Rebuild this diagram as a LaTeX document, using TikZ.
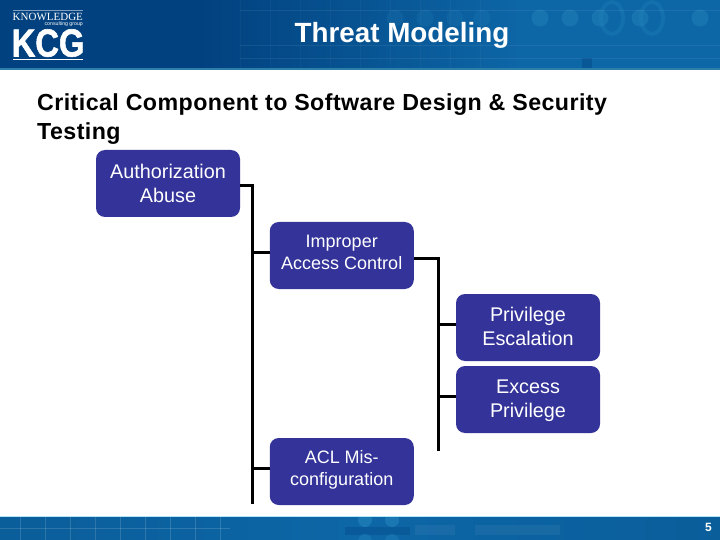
\documentclass[tikz,border=0pt]{standalone}
\usepackage{fontspec}
\setmainfont{Liberation Sans}
\newfontfamily\logoserif{Liberation Serif}
\newfontfamily\logobold[BoldFeatures={FakeBold=1.6}]{Liberation Sans}
\newfontfamily\headfont[LetterSpace=1.9]{Liberation Sans}
\usetikzlibrary{calc}
\definecolor{boxblue}{HTML}{333399}
\definecolor{hdark}{HTML}{02417F}
\definecolor{hmid}{HTML}{044B8A}
\definecolor{hlight}{HTML}{0D66A6}
\definecolor{fdark}{HTML}{0A5E9A}
\definecolor{dotc}{HTML}{2080B8}
\definecolor{stripc}{HTML}{2C7FA8}
\tikzset{
  x=1pt,y=-1pt,
  topic/.style={draw=none,fill=boxblue,rounded corners=9pt,minimum width=144pt,minimum height=67pt,
    text=white,align=center,inner sep=0pt},
  big/.style={font=\fontsize{19.8}{24}\selectfont},
  small/.style={font=\fontsize{18}{22}\selectfont},
  link/.style={draw=black,line width=3pt,line cap=butt,line join=miter},
  heading/.style={anchor=base west,inner sep=0pt,font=\headfont\bfseries\fontsize{23.2}{24}\selectfont},
}
\begin{document}
\begin{tikzpicture}
\useasboundingbox (0,0) rectangle (720,540);
% header
\fill[hdark] (0,0) rectangle (200,68);
\shade[left color=hdark,right color=hlight] (200,0) rectangle (520,68);
\fill[hlight] (520,0) rectangle (720,68);
\foreach \cx in {395,425,455,482}
  \fill[dotc,opacity=.22] (\cx,18) circle (8.5);
\foreach \cx in {540,570,600,640,700}
  \fill[dotc,opacity=.55] (\cx,18) circle (8.5);
\foreach \cx in {612,652}
  \draw[dotc,opacity=.4,line width=4pt] (\cx,18) ellipse (11 and 16);
\fill[hdark,opacity=.4] (582,58) rectangle (592,68);
\foreach \yy in {10,45,58}
  \draw[white,opacity=.07,line width=.6pt] (240,\yy) -- (720,\yy);
\foreach \xx in {240,270,...,480}
  \draw[white,opacity=.03,line width=.6pt] (\xx,0) -- (\xx,68);
\fill[stripc] (0,68) rectangle (720,70);
% footer
\fill[white!70!cyan] (0,516) rectangle (720,517);
\shade[left color=fdark,right color=fdark,middle color=hlight] (0,517) rectangle (720,540);
\foreach \xx in {20,45,...,220}
  \draw[white,opacity=.14,line width=.6pt] (\xx,517) -- (\xx,540);
\draw[white,opacity=.14,line width=.6pt] (0,528) -- (230,528);
\fill[hdark,opacity=.3] (345,527) rectangle (410,535);
\begin{scope}
\clip (0,517) rectangle (720,540);
\foreach \cx in {365,392}{
  \fill[dotc,opacity=.7] (\cx,520) circle (7);
  \fill[dotc,opacity=.5] (\cx,541) circle (7);
}
\end{scope}
\fill[white,opacity=.05] (415,525) rectangle (455,535);
\fill[white,opacity=.05] (475,525) rectangle (560,535);
\node[text=white,font=\bfseries\fontsize{12}{12}\selectfont,inner sep=0pt] (pagenum) at (708.5,527) {5};
% logo
\node[text=white,anchor=base west,inner sep=0pt,font=\logoserif\fontsize{11}{11}\selectfont] (logotop) at (12.5,20.5) {KNOWLEDGE};
\node[text=white,anchor=base east,inner sep=0pt,font=\fontsize{5.2}{5.2}\selectfont] (logosub) at (83,25.6) {consulting group};
\node[text=white,anchor=base west,inner sep=0pt,font=\logobold\bfseries\fontsize{39}{39}\selectfont,xscale=.84] (logomain) at (11.5,56.5) {KCG};
\fill[white,opacity=.5] (12.5,9.8) rectangle (83,10.4);
\fill[white] (12.5,59) rectangle (83,59.7);
% title
\node[text=white,inner sep=0pt,anchor=base,font=\bfseries\fontsize{27.8}{27.8}\selectfont] (title) at (402,43) {Threat Modeling};
% heading
\node[heading] (head1) at (37,111) {Critical Component to Software Design \& Security};
\node[heading] (head2) at (37,140) {Testing};
% boxes
\node[topic] (auth) at (168,183.5) {};
\node[text=white,align=center,inner sep=0pt,big] (authtxt) at (168,186) {\strut Authorization\\\strut Abuse};
\node[topic] (improper) at (341.75,255.5) {};
\node[text=white,align=center,inner sep=0pt,small] (imptxt) at (341.75,254.5) {\strut Improper\\\strut Access Control};
\node[topic] (esc) at (528,327.5) {};
\node[text=white,align=center,inner sep=0pt,big] (esctxt) at (528,328.5) {\strut Privilege\\\strut Escalation};
\node[topic] (excess) at (528,399.5) {};
\node[text=white,align=center,inner sep=0pt,big] (exctxt) at (528,400.5) {\strut Excess\\\strut Privilege};
\node[topic] (acl) at (341.75,471.5) {};
\node[text=white,align=center,inner sep=0pt,small] (acltxt) at (341.75,470.5) {\strut ACL Mis-\\\strut configuration};
% connectors
\coordinate (spineA) at (252.5,504);
\coordinate (spineB) at (438,451);
\draw[link] ($(auth.east)+(0,2.5)$) -| (spineA);
\draw[link] (spineA |- improper.west) ++(0,-3.5) -- ($(improper.west)+(0,-3.5)$);
\draw[link] (spineA |- acl.west) ++(0,-3.5) -- ($(acl.west)+(0,-3.5)$);
\draw[link] ($(improper.east)+(0,2.5)$) -| (spineB);
\draw[link] (spineB |- esc.west) ++(0,-3.5) -- ($(esc.west)+(0,-3.5)$);
\draw[link] (spineB |- excess.west) ++(0,-3.5) -- ($(excess.west)+(0,-3.5)$);
\end{tikzpicture}
\end{document}
